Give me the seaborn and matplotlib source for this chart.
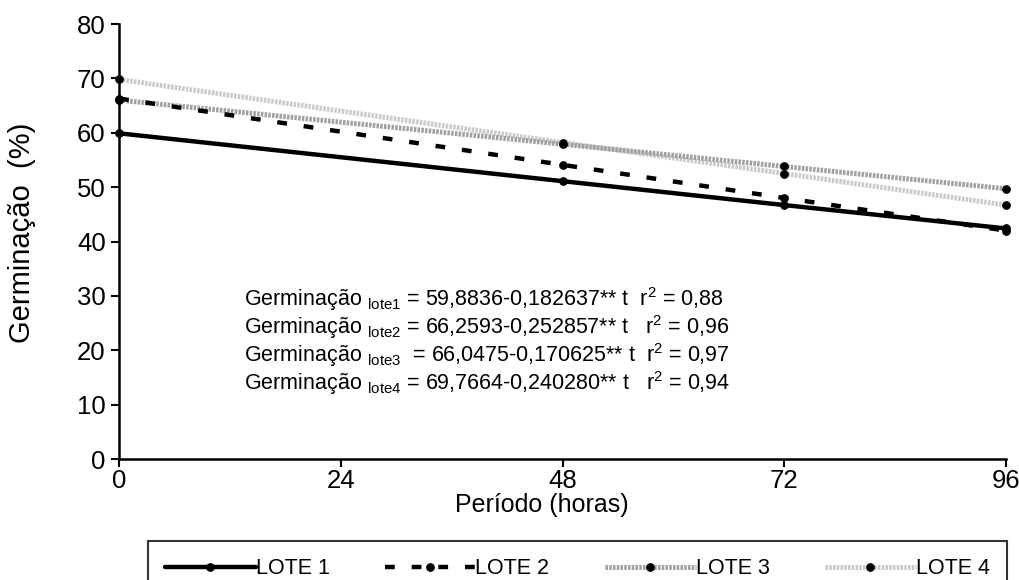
import matplotlib
matplotlib.use("Agg")
import matplotlib.pyplot as plt
import seaborn as sns
import pandas as pd

# Period (hours) and germination (%) per lot
horas = [0, 48, 72, 96]
lote1 = [59.9, 51.1, 46.7, 42.4]
lote2 = [66.3, 54.1, 48.0, 42.0]
lote3 = [66.0, 57.9, 53.8, 49.7]
lote4 = [69.8, 58.2, 52.5, 46.7]

lotes = ["LOTE 1", "LOTE 2", "LOTE 3", "LOTE 4"]
equacoes = [
    r"Germinação $_{\mathrm{lote1}}$ = 59,8836-0,182637** t  r$^{2}$ = 0,88",
    r"Germinação $_{\mathrm{lote2}}$ = 66,2593-0,252857** t   r$^{2}$ = 0,96",
    r"Germinação $_{\mathrm{lote3}}$  = 66,0475-0,170625** t  r$^{2}$ = 0,97",
    r"Germinação $_{\mathrm{lote4}}$ = 69,7664-0,240280** t   r$^{2}$ = 0,94",
]
eq_y = [29.4, 24.3, 19.1, 14.0]

sns.set_style("ticks")
plt.rcParams["font.family"] = ["Liberation Sans", "DejaVu Sans"]
plt.rcParams["mathtext.fontset"] = "custom"
plt.rcParams["mathtext.rm"] = "Liberation Sans"
plt.rcParams["mathtext.it"] = "Liberation Sans:italic"
plt.rcParams["text.color"] = "black"

df = pd.DataFrame({"horas": horas, "LOTE 1": lote1, "LOTE 2": lote2,
                   "LOTE 3": lote3, "LOTE 4": lote4})

fig = plt.figure(figsize=(10.2, 5.8), dpi=100)
ax = fig.add_axes([0.1167, 0.2086, 0.8696, 0.75])

styles = {
    "LOTE 1": dict(color="black", lw=3.2, linestyle="-"),
    "LOTE 2": dict(color="black", lw=3.2, linestyle=(0, (2.2, 3.8))),
    "LOTE 3": dict(color="#a0a0a0", lw=3.6, linestyle=(0, (0.5, 0.25))),
    "LOTE 4": dict(color="#cacaca", lw=3.6, linestyle=(0, (0.5, 0.25))),
}

for nome in lotes[::-1]:
    st = styles[nome]
    sns.lineplot(data=df, x="horas", y=nome, ax=ax, color=st["color"],
                 linewidth=st["lw"], linestyle=st["linestyle"],
                 marker="o", markersize=5.5, markerfacecolor="black",
                 markeredgecolor="black", label=nome, legend=False)

line_map = {l.get_label(): l for l in ax.get_lines()}
handles = [line_map[n] for n in lotes]

for txt, y in zip(equacoes, eq_y):
    ax.text(13.5, y, txt, fontsize=15.5, va="center", ha="left", color="black")

ax.set_xlim(0, 96)
ax.set_ylim(0, 80)
ax.set_xticks([0, 24, 48, 72, 96])
ax.set_yticks(range(0, 81, 10))
ax.tick_params(axis="both", labelsize=18.5, width=1.5, length=6,
               direction="out", color="black", labelcolor="black")
ax.tick_params(axis="x", pad=1.5)
ax.set_xlabel("Período (horas)", fontsize=18, color="black")
ax.xaxis.set_label_coords(0.477, -0.078)
ax.set_ylabel("Germinação  (%)", fontsize=21, color="black")
ax.yaxis.set_label_coords(-0.094, 0.52)
for s in ["top", "right"]:
    ax.spines[s].set_visible(False)
for s in ["left", "bottom"]:
    ax.spines[s].set_linewidth(1.8)
    ax.spines[s].set_color("black")
ax.margins(0)
for l in ax.get_lines():
    l.set_clip_on(False)

leg = fig.legend(handles=handles, labels=lotes, loc="upper left",
                 bbox_to_anchor=(0.145, -0.2, 0.842, 0.267), mode="expand",
                 ncol=4, fontsize=15.5, handlelength=4.2, handletextpad=0.0,
                 borderaxespad=0, frameon=True, fancybox=False,
                 columnspacing=1.0, borderpad=0.8, labelcolor="black")
leg.get_frame().set_edgecolor("black")
leg.get_frame().set_linewidth(1.5)

fig.savefig("out.png", dpi=100)
